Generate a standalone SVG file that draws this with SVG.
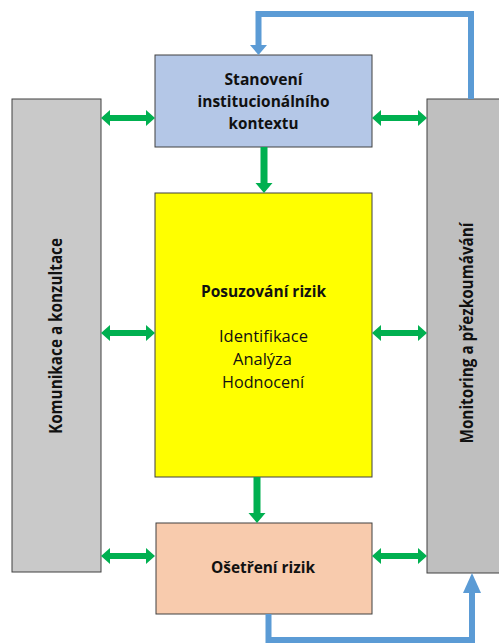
<svg xmlns="http://www.w3.org/2000/svg" width="499" height="644" viewBox="0 0 499 644">
<defs>
<style>
.box{stroke:#404040;stroke-width:1}
.t{font-family:"Open Sans","Liberation Sans",sans-serif;fill:#111;text-anchor:middle}
.b{font-weight:bold;font-size:16px}
.r{font-size:16px}
.v{font-weight:bold;font-size:17px}
.g{fill:#00B050}
.blue{fill:none;stroke:#5B9BD5;stroke-width:6}
.bh{fill:#5B9BD5}
</style>
</defs>
<rect width="499" height="644" fill="#fff"/>
<g id="komunikace">
<rect class="box" x="12" y="99" width="89" height="473" fill="#C9C9C9"/>
<text class="t v" transform="translate(62,336) rotate(-90)" textLength="196" lengthAdjust="spacingAndGlyphs">Komunikace a konzultace</text>
</g>
<g id="monitoring">
<rect class="box" x="427" y="99" width="90" height="474" fill="#BFBFBF"/>
<text class="t v" transform="translate(473,333) rotate(-90)" textLength="221" lengthAdjust="spacingAndGlyphs">Monitoring a přezkoumávání</text>
</g>
<g id="stanoveni">
<rect class="box" x="155" y="55" width="217" height="92" fill="#B4C7E7"/>
<text class="t b" x="263.5" y="85" textLength="78" lengthAdjust="spacingAndGlyphs">Stanovení</text>
<text class="t b" x="263.5" y="107" textLength="132" lengthAdjust="spacingAndGlyphs">institucionálního</text>
<text class="t b" x="263.5" y="129" textLength="70" lengthAdjust="spacingAndGlyphs">kontextu</text>
</g>
<g id="posuzovani">
<rect class="box" x="155" y="193" width="217" height="284" fill="#FFFF00"/>
<text class="t b" x="263.5" y="297" textLength="125" lengthAdjust="spacingAndGlyphs">Posuzování rizik</text>
<text class="t r" x="263.5" y="342" textLength="89" lengthAdjust="spacingAndGlyphs">Identifikace</text>
<text class="t r" x="262.5" y="365" textLength="59" lengthAdjust="spacingAndGlyphs">Analýza</text>
<text class="t r" x="263" y="388" textLength="82" lengthAdjust="spacingAndGlyphs">Hodnocení</text>
</g>
<g id="osetreni">
<rect class="box" x="156" y="523" width="216" height="91" fill="#F8CBAD"/>
<text class="t b" x="263" y="573" textLength="104" lengthAdjust="spacingAndGlyphs">Ošetření rizik</text>
</g>
<g id="connectors">
<path class="g" d="M101,118 l9,-8 v5 h36 v-5 l9,8 l-9,8 v-5 h-36 v5 z"/>
<path class="g" d="M101,333 l9,-8 v5 h36 v-5 l9,8 l-9,8 v-5 h-36 v5 z"/>
<path class="g" d="M101,556 l9,-8 v5 h36 v-5 l9,8 l-9,8 v-5 h-36 v5 z"/>
<path class="g" d="M372,118 l9,-8 v5 h37 v-5 l9,8 l-9,8 v-5 h-37 v5 z"/>
<path class="g" d="M372,333 l9,-8 v5 h37 v-5 l9,8 l-9,8 v-5 h-37 v5 z"/>
<path class="g" d="M372,556 l9,-8 v5 h37 v-5 l9,8 l-9,8 v-5 h-37 v5 z"/>
<path class="g" d="M260.5,147 h7 v36 h5 l-8.5,10 l-8.5,-10 h5 z"/>
<path class="g" d="M253.5,477 h7 v36 h5 l-8.5,10 l-8.5,-10 h5 z"/>
<path class="blue" d="M471,99 V14 H258.5 V46"/>
<path class="bh" d="M250,45 h17 l-8.5,10 z"/>
<path class="blue" d="M268.5,614 V640 H472 V592"/>
<path class="bh" d="M463,593 h18 l-9,-20 z"/>
</g>
</svg>
